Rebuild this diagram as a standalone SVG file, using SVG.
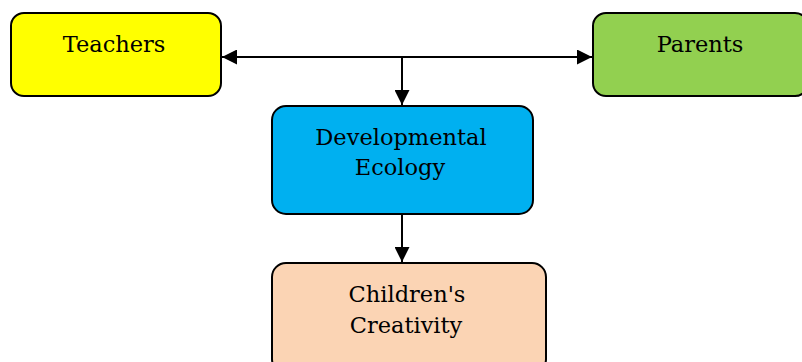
<svg xmlns="http://www.w3.org/2000/svg" width="802" height="362" viewBox="0 0 802 362">
<style>
.box{stroke:#000;stroke-width:2}
.t{font-family:"DejaVu Serif","Liberation Serif",serif;font-size:22.5px;fill:#000;text-anchor:middle}
.c{stroke:#000;stroke-width:2;fill:none}
</style>
<defs>
<marker id="ah" viewBox="0 0 15 15" refX="15" refY="7.5" markerWidth="15" markerHeight="15" markerUnits="userSpaceOnUse" orient="auto-start-reverse">
<path d="M0,0 L15,7.5 L0,15 Z" fill="#000"/>
</marker>
</defs>
<g id="connectors">
<line class="c" x1="222" y1="57" x2="592" y2="57" marker-start="url(#ah)" marker-end="url(#ah)"/>
<line class="c" x1="402" y1="57" x2="402" y2="105" marker-end="url(#ah)"/>
<line class="c" x1="402" y1="214" x2="402" y2="262" marker-end="url(#ah)"/>
</g>
<g id="teachers">
<rect class="box" x="11" y="13" width="210" height="83" rx="13" fill="#FFFF00"/>
<text class="t" x="114" y="52">Teachers</text>
</g>
<g id="parents">
<rect class="box" x="593" y="13" width="215" height="83" rx="13" fill="#92D050"/>
<text class="t" x="700" y="52">Parents</text>
</g>
<g id="ecology">
<rect class="box" x="272" y="106" width="261" height="108" rx="14" fill="#00B0F0"/>
<text class="t" x="401" y="145">Developmental</text>
<text class="t" x="400" y="175">Ecology</text>
</g>
<g id="creativity">
<rect class="box" x="272" y="263" width="274" height="110" rx="14" fill="#FBD4B4"/>
<text class="t" x="407" y="302">Children's</text>
<text class="t" x="406" y="333">Creativity</text>
</g>
</svg>
